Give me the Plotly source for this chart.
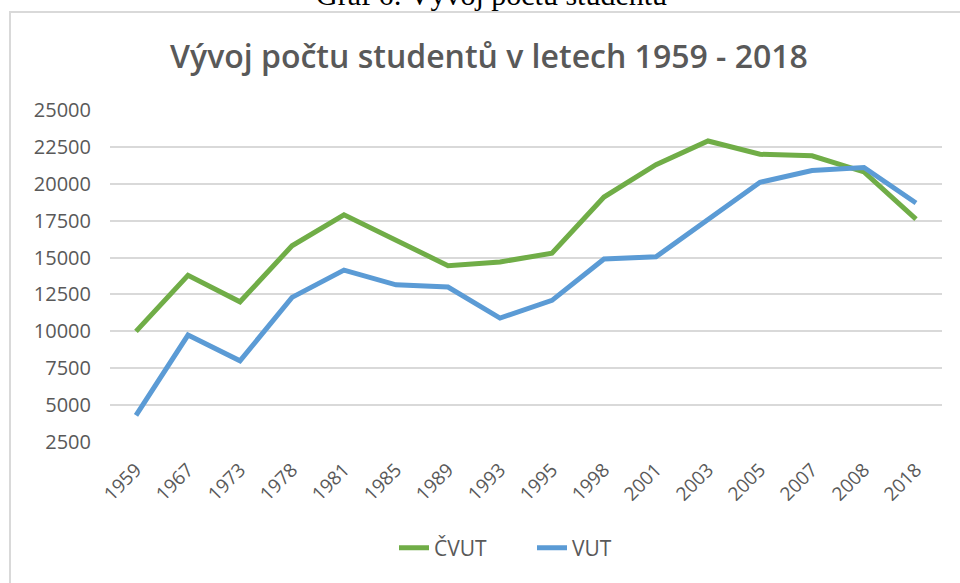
import plotly.graph_objects as go

years = ["1959", "1967", "1973", "1978", "1981", "1985", "1989", "1993",
         "1995", "1998", "2001", "2003", "2005", "2007", "2008", "2018"]
cvut = [10000, 13800, 12000, 15800, 17900, 16200, 14450, 14700,
        15300, 19100, 21300, 22900, 22000, 21900, 20800, 17600]
vut = [4300, 9750, 8000, 12300, 14150, 13150, 13000, 10900,
       12100, 14900, 15050, 17550, 20100, 20900, 21100, 18700]
y_ticks = [2500, 5000, 7500, 10000, 12500, 15000, 17500, 20000, 22500, 25000]
y_tick_labels = [str(v) for v in y_ticks]

W, H = 960, 583
ML, MR, MT, MB = 110, 18, 110, 141
PW, PH = W - ML - MR, H - MT - MB


def px_x(px):
    return (px - ML) / PW


def px_y(py):
    return (H - MB - py) / PH


FONT = "Open Sans"
GREY = "#595959"

fig = go.Figure()
fig.add_trace(go.Scatter(x=years, y=cvut, mode="lines", name="ČVUT",
                         line=dict(color="#70AD47", width=5)))
fig.add_trace(go.Scatter(x=years, y=vut, mode="lines", name="VUT",
                         line=dict(color="#5B9BD5", width=5)))

fig.update_layout(
    width=W, height=H,
    margin=dict(l=ML, r=MR, t=MT, b=MB),
    paper_bgcolor="white", plot_bgcolor="white",
    font=dict(family=FONT, color=GREY),
    title=dict(text="Vývoj počtu studentů v letech 1959 - 2018",
               x=489 / W, xanchor="center", y=1 - 57 / H, yanchor="middle",
               font=dict(family=FONT, size=32, color=GREY, weight=600)),
    showlegend=True,
    legend=dict(orientation="h", x=px_x(394), xanchor="left",
                y=px_y(548), yanchor="middle",
                font=dict(family=FONT, size=21, color=GREY),
                entrywidth=93, entrywidthmode="pixels",
                bgcolor="rgba(0,0,0,0)"),
    xaxis=dict(type="category", range=[-0.5, len(years) - 0.5],
               showgrid=False, showline=False, zeroline=False,
               tickangle=-45, tickfont=dict(family=FONT, size=19, color=GREY),
               ticks="", ticklabelstandoff=12),
    yaxis=dict(range=[2500, 25000], tickvals=y_ticks, ticktext=y_tick_labels,
               showgrid=True, gridcolor="#d9d9d9", gridwidth=1.5,
               zeroline=False, showline=False, ticks="",
               tickfont=dict(family=FONT, size=20, color=GREY),
               ticklabelstandoff=18),
)

fig.add_shape(type="rect", xref="paper", yref="paper",
              x0=px_x(10), x1=px_x(1000), y0=px_y(12), y1=px_y(620),
              line=dict(color="#d9d9d9", width=2), fillcolor="rgba(0,0,0,0)",
              layer="below")

fig.add_annotation(text="Graf 6: Vývoj počtu studentů", xref="paper", yref="paper",
                   x=px_x(491), y=px_y(-5.5), xanchor="center", yanchor="middle",
                   showarrow=False,
                   font=dict(family="Liberation Serif", size=30, color="black"))

fig.write_html("out.html", config={"displayModeBar": False},
               post_script="document.body.style.margin='0';document.body.style.overflow='hidden';")
